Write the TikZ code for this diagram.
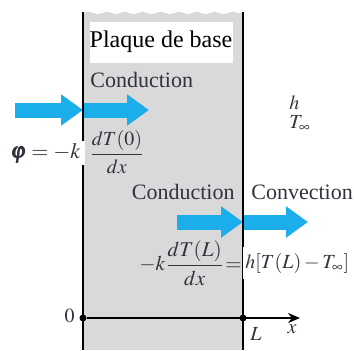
\documentclass[tikz,border=0pt]{standalone}
\usepackage{amsmath}
\usepackage{mathptmx}
\usepackage{bm}
\usepackage[no-math]{fontspec}
\setmainfont{Liberation Serif}
\usetikzlibrary{arrows.meta,positioning,decorations.pathmorphing}
\definecolor{heatblue}{RGB}{28,174,234}
\definecolor{plategray}{RGB}{217,217,217}
\definecolor{labelink}{RGB}{48,50,62}

\begin{document}
\begin{tikzpicture}[x=0.5pt,y=-0.5pt,
    flow/.style={-{Triangle[length=11pt,width=15pt]}, line width=7.5pt, heatblue},
    wall/.style={line width=1pt},
    lbl/.style={text=labelink, font=\rmfamily\fontsize{11}{13}\selectfont, inner sep=1pt},
    eqn/.style={text=labelink, inner sep=1pt}
    ]
    \useasboundingbox (0,0) rectangle (354,350);

    % plate
    \fill[plategray] (83,13) decorate[decoration={snake,amplitude=0.7pt,segment length=9pt}]{-- (243,13)}
        -- (243,350) -- (83,350) -- cycle;

    % heat flow arrows
    \coordinate (in0) at (15,110);
    \coordinate (s0) at (83,110);
    \coordinate (out0) at (149,110);
    \coordinate (in1) at (177,222);
    \coordinate (s1) at (243,222);
    \coordinate (out1) at (308,222);
    \draw[flow] (in0) -- (s0);
    \draw[flow] (s0) -- (out0);
    \draw[flow] (in1) -- (s1);
    \draw[flow] (s1) -- (out1);

    % walls
    \coordinate (w0top) at (83,12);
    \coordinate (w0bot) at (83,350);
    \coordinate (wLtop) at (243,12);
    \coordinate (wLbot) at (243,350);
    \draw[wall] (w0top) -- (w0bot);
    \draw[wall] (wLtop) -- (wLbot);

    % labels
    \node[fill=white, minimum width=71.5pt, minimum height=20.5pt, inner sep=0pt,
        font=\rmfamily\fontsize{12}{14}\selectfont] (plaque) at (161,42) {Plaque de base};
    \node[lbl, anchor=west] (cond0) at (88,80) {Conduction};
    \node[eqn, anchor=west] (frac0) at (87,152) {$\displaystyle\frac{dT(0)}{dx}$};
    \node[eqn, fill=white, anchor=east, inner xsep=2pt, font=\fontsize{11}{13}\selectfont] (flux) at (85,153) {$\bm{\varphi} = -k$};
    \node[eqn, anchor=west] (h) at (287,103) {$h$};
    \node[eqn, anchor=west] (tinf) at (287,124) {$T_\infty$};
    \node[lbl, anchor=east] (cond1) at (237,192) {Conduction};
    \node[lbl, anchor=west] (conv) at (249,192) {Convection};
    \node[eqn, anchor=east, inner xsep=0pt, font=\fontsize{10.5}{13}\selectfont] (eqL) at (242,263)
        {$-k\displaystyle\frac{dT(L)}{dx}\mskip1mu{=}$};
    \node[eqn, fill=white, anchor=west, minimum height=16pt] (eqR) at (243,263) {$h[T(L) - T_\infty]$};

    % x axis
    \coordinate (axend) at (300,318);
    \node[circle, fill, inner sep=0pt, minimum size=3.5pt] (o) at (83,318) {};
    \node[circle, fill, inner sep=0pt, minimum size=3.5pt] (l) at (243,318) {};
    \draw[wall, -{Stealth[length=6pt,width=5pt]}] (o) -- (axend);
    \node[eqn, anchor=east] (zero) at (77,316) {$0$};
    \node[eqn] (ltick) at (256,334) {$L$};
    \node[eqn] (xlab) at (292,329) {$x$};

\end{tikzpicture}
\end{document}
